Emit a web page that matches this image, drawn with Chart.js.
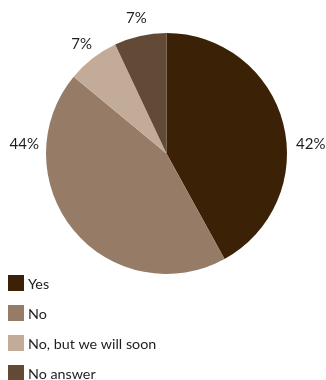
<!DOCTYPE html>
<html>
<head>
<meta charset="utf-8">
<script src="https://cdn.jsdelivr.net/npm/chart.js@4/dist/chart.umd.min.js"></script>
<style>
  html, body { margin: 0; padding: 0; background: #ffffff; }
  #wrap { position: relative; width: 326px; height: 380px; }
</style>
</head>
<body>
<div id="wrap"><canvas id="pie" width="326" height="380"></canvas></div>
<script>
// Survey answers, share of respondents in percent
const categories = ['Yes', 'No', 'No, but we will soon', 'No answer'];
const shares = [42, 44, 7, 7];
const sliceColors = ['#3b2207', '#967c67', '#c2ac99', '#624a36'];

const FONT = 'Lato, "Open Sans", sans-serif';
const TEXT_COLOR = '#1e1e1e';

// Percent labels outside the pie. Slices that reach across the 3 or 9 o'clock
// position get their label beside the pie; the others sit off their mid angle.
const outsideLabels = {
  id: 'outsideLabels',
  afterDatasetsDraw(chart) {
    const { ctx } = chart;
    const meta = chart.getDatasetMeta(0);
    ctx.save();
    ctx.font = '15px ' + FONT;
    ctx.fillStyle = TEXT_COLOR;
    meta.data.forEach((arc, i) => {
      const { x, y, startAngle, endAngle, outerRadius } = arc.getProps(
        ['x', 'y', 'startAngle', 'endAngle', 'outerRadius'], true);
      const text = shares[i] + '%';
      const right = 0, left = Math.PI;
      const norm = a => { let v = a % (2 * Math.PI); return v < 0 ? v + 2 * Math.PI : v; };
      const s = norm(startAngle), e = s + (endAngle - startAngle);
      const holds = a => (norm(a) >= s && norm(a) <= e) || (norm(a) + 2 * Math.PI <= e);
      ctx.textBaseline = 'middle';
      if (holds(right)) {
        ctx.textAlign = 'left';
        ctx.fillText(text, x + outerRadius + 9, y - 9);
      } else if (holds(left)) {
        ctx.textAlign = 'right';
        ctx.fillText(text, x - outerRadius - 7, y - 9);
      } else {
        const mid = (startAngle + endAngle) / 2;
        const r = outerRadius + 18;
        ctx.textAlign = 'center';
        ctx.fillText(text, x + Math.cos(mid) * r, y + Math.sin(mid) * r);
      }
    });
    ctx.restore();
  }
};

// Vertical legend under the pie, one row per answer
const columnLegend = {
  id: 'columnLegend',
  afterDraw(chart) {
    const { ctx } = chart;
    const left = 8, top = 275, box = 16, step = 30;
    ctx.save();
    ctx.font = '14.3px ' + FONT;
    ctx.textAlign = 'left';
    ctx.textBaseline = 'middle';
    categories.forEach((name, i) => {
      const yy = top + i * step;
      ctx.fillStyle = sliceColors[i];
      ctx.fillRect(left, yy, box, box);
      ctx.fillStyle = TEXT_COLOR;
      ctx.fillText(name, left + box + 4, yy + box / 2 + 1);
    });
    ctx.restore();
  }
};

new Chart(document.getElementById('pie'), {
  type: 'pie',
  data: {
    labels: categories,
    datasets: [{
      data: shares,
      backgroundColor: sliceColors,
      borderWidth: 0
    }]
  },
  options: {
    responsive: false,
    animation: false,
    layout: { padding: { top: 33, left: 46, right: 39, bottom: 106 } },
    plugins: {
      legend: { display: false },
      tooltip: { enabled: false }
    }
  },
  plugins: [outsideLabels, columnLegend]
});
</script>
</body>
</html>
